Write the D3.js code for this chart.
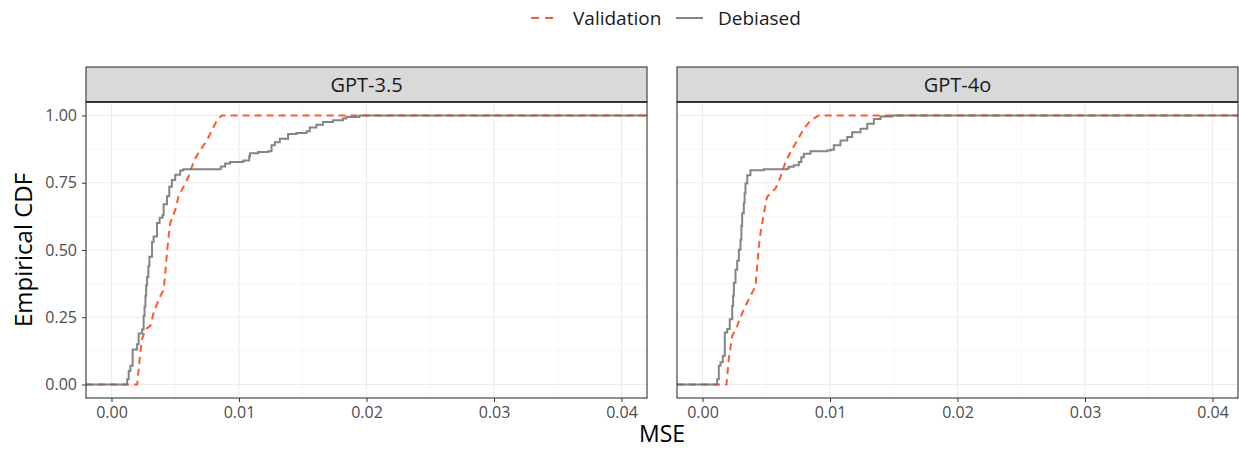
<!DOCTYPE html>
<html>
<head>
<meta charset="utf-8">
<script src="https://cdn.jsdelivr.net/npm/d3@7"></script>
<style>
  body { margin: 0; background: #fff; }
  text { font-family: "Open Sans", sans-serif; }
</style>
</head>
<body>
<div id="chart"></div>
<script>
(function() {
    // ---- data ----
    const panelNames = ["GPT-3.5", "GPT-4o"];
    const seriesNames = ["Validation", "Debiased"];
    const xTicks = [0, 0.01, 0.02, 0.03, 0.04];
    const yTicks = [0, 0.25, 0.5, 0.75, 1];
    const xDomain = [-0.002, 0.042];
    const yDomain = [-0.05, 1.05];

    // [MSE, ECDF]
    const gpt35Validation = [
        [0.00201, 0], [0.00221, 0.095], [0.0024, 0.17], [0.00266, 0.205], [0.00305, 0.218],
        [0.0033, 0.267], [0.0037, 0.316], [0.00409, 0.353], [0.00422, 0.415], [0.00435, 0.489],
        [0.00448, 0.55], [0.00461, 0.60], [0.005, 0.649], [0.00526, 0.70], [0.00565, 0.735],
        [0.00604, 0.772], [0.0063, 0.809], [0.00656, 0.84], [0.00695, 0.87], [0.00748, 0.907],
        [0.00787, 0.944], [0.00826, 0.981], [0.00865, 1.0]
    ];
    const gpt35Debiased = [
        [0.00123, 0.02], [0.00135, 0.05], [0.00148, 0.07], [0.00166, 0.13], [0.00201, 0.15],
        [0.00213, 0.19], [0.0024, 0.205], [0.00252, 0.255], [0.00259, 0.29], [0.00266, 0.33],
        [0.00272, 0.37], [0.00279, 0.40], [0.00289, 0.44], [0.00297, 0.475], [0.00318, 0.53],
        [0.0033, 0.55], [0.00357, 0.60], [0.00377, 0.62], [0.00401, 0.63], [0.00409, 0.67],
        [0.00435, 0.70], [0.00453, 0.735], [0.00474, 0.76], [0.005, 0.78], [0.00539, 0.795],
        [0.00563, 0.80], [0.00857, 0.81], [0.00891, 0.821], [0.0093, 0.827], [0.01034, 0.833],
        [0.0108, 0.848], [0.01086, 0.86], [0.01151, 0.864], [0.01229, 0.867], [0.01255, 0.889],
        [0.01281, 0.90], [0.0132, 0.913], [0.01385, 0.931], [0.01451, 0.935], [0.01529, 0.941],
        [0.01555, 0.955], [0.01607, 0.965], [0.01659, 0.976], [0.01737, 0.982], [0.01815, 0.989],
        [0.01841, 0.994], [0.01945, 1.0]
    ];
    const gpt4oValidation = [
        [0.00188, 0], [0.00206, 0.095], [0.00233, 0.181], [0.00272, 0.218], [0.00324, 0.28],
        [0.00376, 0.329], [0.00416, 0.366], [0.00429, 0.44], [0.00442, 0.513], [0.00455, 0.563],
        [0.00481, 0.637], [0.00507, 0.698], [0.00573, 0.729], [0.00612, 0.772], [0.00651, 0.827],
        [0.0069, 0.864], [0.00743, 0.907], [0.00795, 0.951], [0.00847, 0.981], [0.00912, 1.0]
    ];
    const gpt4oDebiased = [
        [0.00115, 0.02], [0.00128, 0.07], [0.00141, 0.083], [0.00159, 0.107], [0.00175, 0.193],
        [0.00194, 0.206], [0.00214, 0.243], [0.00233, 0.292], [0.0024, 0.33], [0.00246, 0.378],
        [0.00259, 0.427], [0.00272, 0.46], [0.00285, 0.501], [0.00298, 0.538], [0.00305, 0.59],
        [0.00311, 0.637], [0.00324, 0.674], [0.0033, 0.71], [0.00337, 0.747], [0.00351, 0.778],
        [0.00376, 0.796], [0.00481, 0.80], [0.00664, 0.803], [0.00677, 0.809], [0.00716, 0.815],
        [0.00755, 0.827], [0.00775, 0.845], [0.00795, 0.858], [0.00847, 0.867], [0.00978, 0.87],
        [0.01004, 0.873], [0.0103, 0.889], [0.01082, 0.907], [0.01135, 0.92], [0.01174, 0.938],
        [0.01239, 0.951], [0.01292, 0.969], [0.01344, 0.987], [0.01396, 0.996], [0.01488, 1.0]
    ];

    const panelData = [
        { validation: gpt35Validation, debiased: gpt35Debiased },
        { validation: gpt4oValidation, debiased: gpt4oDebiased }
    ];

    // ---- layout ----
    const width = 1239, height = 450;
    const panelX = [86, 677];
    const panelW = 561;
    const stripTop = 67, panelTop = 102, panelBottom = 398;

    const colValidation = "#FF5A2E";
    const colDebiased = "#6f6f6f";

    const svg = d3.select("#chart").append("svg")
        .attr("width", width).attr("height", height);

    const y = d3.scaleLinear().domain(yDomain).range([panelBottom, panelTop]);

    panelNames.forEach((name, i) => {
        const x = d3.scaleLinear().domain(xDomain).range([panelX[i], panelX[i] + panelW]);
        const g = svg.append("g");

        // grid
        const xMinor = xTicks.slice(0, -1).map(t => t + 0.005);
        const yMinor = yTicks.slice(0, -1).map(t => t + 0.125);
        g.selectAll(".xminor").data(xMinor).join("line")
            .attr("x1", d => x(d)).attr("x2", d => x(d))
            .attr("y1", panelTop).attr("y2", panelBottom)
            .attr("stroke", "#f2f2f2").attr("stroke-width", 0.6);
        g.selectAll(".yminor").data(yMinor).join("line")
            .attr("x1", panelX[i]).attr("x2", panelX[i] + panelW)
            .attr("y1", d => y(d)).attr("y2", d => y(d))
            .attr("stroke", "#f2f2f2").attr("stroke-width", 0.6);
        g.selectAll(".xmajor").data(xTicks).join("line")
            .attr("x1", d => x(d)).attr("x2", d => x(d))
            .attr("y1", panelTop).attr("y2", panelBottom)
            .attr("stroke", "#ebebeb").attr("stroke-width", 1.1);
        g.selectAll(".ymajor").data(yTicks).join("line")
            .attr("x1", panelX[i]).attr("x2", panelX[i] + panelW)
            .attr("y1", d => y(d)).attr("y2", d => y(d))
            .attr("stroke", "#ebebeb").attr("stroke-width", 1.1);

        // lines (padded to the panel edges like stat_ecdf)
        const clipId = "clip" + i;
        svg.append("clipPath").attr("id", clipId).append("rect")
            .attr("x", panelX[i]).attr("y", panelTop).attr("width", panelW).attr("height", panelBottom - panelTop);

        const vPts = [[xDomain[0], 0]].concat(panelData[i].validation, [[xDomain[1], 1]]);
        const dPts = [[xDomain[0], 0]].concat(panelData[i].debiased, [[xDomain[1], 1]]);

        const lineLin = d3.line().x(d => x(d[0])).y(d => y(d[1]));
        const lineStep = d3.line().x(d => x(d[0])).y(d => y(d[1])).curve(d3.curveStepAfter);

        g.append("path").datum(vPts)
            .attr("clip-path", `url(#${clipId})`)
            .attr("d", lineLin)
            .attr("fill", "none").attr("stroke", colValidation)
            .attr("stroke-width", 2).attr("stroke-dasharray", "7,5");
        g.append("path").datum(dPts)
            .attr("clip-path", `url(#${clipId})`)
            .attr("d", lineStep)
            .attr("fill", "none").attr("stroke", colDebiased).attr("stroke-opacity", 0.85)
            .attr("stroke-width", 2);

        // panel border
        g.append("rect")
            .attr("x", panelX[i]).attr("y", panelTop)
            .attr("width", panelW).attr("height", panelBottom - panelTop)
            .attr("fill", "none").attr("stroke", "#333").attr("stroke-width", 1.1);

        // strip
        g.append("rect")
            .attr("x", panelX[i]).attr("y", stripTop)
            .attr("width", panelW).attr("height", panelTop - stripTop)
            .attr("fill", "#d9d9d9").attr("stroke", "#333").attr("stroke-width", 1.1);
        g.append("line")
            .attr("x1", panelX[i]).attr("x2", panelX[i] + panelW)
            .attr("y1", panelTop).attr("y2", panelTop)
            .attr("stroke", "#333").attr("stroke-width", 2);
        g.append("text")
            .attr("x", panelX[i] + panelW / 2).attr("y", (stripTop + panelTop) / 2)
            .attr("text-anchor", "middle").attr("dominant-baseline", "central")
            .attr("font-size", 20).attr("fill", "#1a1a1a")
            .text(name);

        // x axis
        const xAxis = d3.axisBottom(x).tickValues(xTicks).tickFormat(d3.format(".2f"))
            .tickSize(4).tickPadding(5);
        const ax = g.append("g").attr("transform", `translate(0,${panelBottom})`).call(xAxis);
        ax.select(".domain").remove();
        ax.selectAll(".tick line").attr("stroke", "#333");
        ax.selectAll(".tick text").attr("font-size", 16).attr("fill", "#4d4d4d")
            .style("font-family", "'Open Sans', sans-serif");

        // y axis only on first panel
        if (i === 0) {
            const yAxis = d3.axisLeft(y).tickValues(yTicks).tickFormat(d3.format(".2f"))
                .tickSize(4).tickPadding(5);
            const ay = g.append("g").attr("transform", `translate(${panelX[i]},0)`).call(yAxis);
            ay.select(".domain").remove();
            ay.selectAll(".tick line").attr("stroke", "#333");
            ay.selectAll(".tick text").attr("font-size", 16).attr("fill", "#4d4d4d")
                .style("font-family", "'Open Sans', sans-serif");
        }
    });

    // axis titles
    svg.append("text")
        .attr("x", (panelX[0] + panelX[1] + panelW) / 2).attr("y", 442)
        .attr("text-anchor", "middle").attr("font-size", 23).attr("fill", "#000")
        .text("MSE");
    svg.append("text")
        .attr("transform", `translate(32,${(panelTop + panelBottom) / 2}) rotate(-90)`)
        .attr("text-anchor", "middle").attr("font-size", 24).attr("fill", "#000")
        .text("Empirical CDF");

    // legend
    const legend = svg.append("g");
    const legendItems = [
        { name: seriesNames[0], x: 531, color: colValidation, dash: "8,6" },
        { name: seriesNames[1], x: 676, color: colDebiased, dash: null }
    ];
    legendItems.forEach(it => {
        legend.append("line")
            .attr("x1", it.x).attr("x2", it.x + 27)
            .attr("y1", 18).attr("y2", 18)
            .attr("stroke", it.color).attr("stroke-width", 2)
            .attr("stroke-opacity", it.dash ? 1 : 0.85)
            .attr("stroke-dasharray", it.dash);
        legend.append("text")
            .attr("x", it.x + 42).attr("y", 18)
            .attr("dominant-baseline", "central")
            .attr("font-size", 19).attr("fill", "#1a1a1a")
            .text(it.name);
    });
})();
</script>
</body>
</html>
